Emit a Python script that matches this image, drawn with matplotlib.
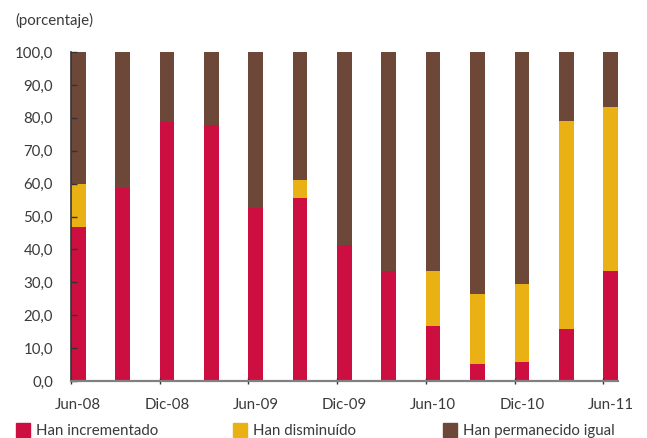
import numpy as np
import matplotlib.pyplot as plt
from matplotlib.patches import Rectangle

plt.rcParams['font.family'] = ['Lato', 'DejaVu Sans']

# Quarterly survey shares (percent)
periods = ["Jun-08", "Sep-08", "Dic-08", "Mar-09", "Jun-09", "Sep-09", "Dic-09",
           "Mar-10", "Jun-10", "Sep-10", "Dic-10", "Mar-11", "Jun-11"]
incrementado = [46.7, 58.8, 78.6, 77.8, 52.6, 55.6, 41.2, 33.3, 16.7, 5.3, 5.9, 15.8, 33.3]
disminuido   = [13.3, 0.0, 0.0, 0.0, 0.0, 5.6, 0.0, 0.0, 16.7, 21.1, 23.5, 63.2, 50.0]
igual = [100 - a - b for a, b in zip(incrementado, disminuido)]

series_names = ["Han incrementado", "Han disminuído", "Han permanecido igual"]
yticks = np.arange(0, 101, 10)

RED = "#CC0E40"
YELLOW = "#EAB114"
BROWN = "#6D4839"
TEXT = "#3a3a3a"

fig = plt.figure(figsize=(6.47, 4.38), dpi=100)
ax = fig.add_axes([0.1097, 0.1301, 0.8453, 0.7512])

w = 0.33
x = np.arange(len(periods))
inc = np.array(incrementado)
dis = np.array(disminuido)
ig = np.array(igual)

ax.bar(x, inc, w, color=RED, linewidth=0)
ax.bar(x, dis, w, bottom=inc, color=YELLOW, linewidth=0)
ax.bar(x, ig, w, bottom=inc + dis, color=BROWN, linewidth=0)

ax.set_xlim(-w / 2, len(periods) - 1 + w / 2)
ax.set_ylim(0, 100)

# y axis
ax.set_yticks(yticks)
ax.set_yticklabels([f"{v:.1f}".replace(".", ",") for v in yticks])
ax.tick_params(axis="y", direction="in", length=4, width=1, color="#333333",
               labelsize=10.8, labelcolor=TEXT, pad=13)

# x axis: marks at bar left edges, labels under bars
ax.set_xticks(x[::2] - w / 2, minor=True)
ax.set_xticks(x[::2])
ax.set_xticklabels(periods[::2])
ax.tick_params(axis="x", which="major", length=0, labelsize=10.8,
               labelcolor=TEXT, pad=12)
ax.tick_params(axis="x", which="minor", direction="inout", length=5,
               width=1, color="#333333")

for s in ("top", "right"):
    ax.spines[s].set_visible(False)
ax.spines["left"].set_color("#333333")
ax.spines["left"].set_linewidth(1.2)
ax.spines["bottom"].set_color("#808080")
ax.spines["bottom"].set_linewidth(1.6)

fig.text(15 / 647, 1 - 20 / 438, "(porcentaje)", fontsize=10.8, color=TEXT,
         va="center", ha="left")

# legend row along the bottom
leg_x = [16, 233, 443]
for lx, name, c in zip(leg_x, series_names, [RED, YELLOW, BROWN]):
    fig.patches.append(Rectangle((lx / 647, 1 - 437 / 438), 14 / 647, 14 / 438,
                                 transform=fig.transFigure, color=c))
    fig.text((lx + 20) / 647, 1 - 431 / 438, name, fontsize=10.8, color=TEXT,
             va="center", ha="left")

fig.savefig("out.png", dpi=100)
